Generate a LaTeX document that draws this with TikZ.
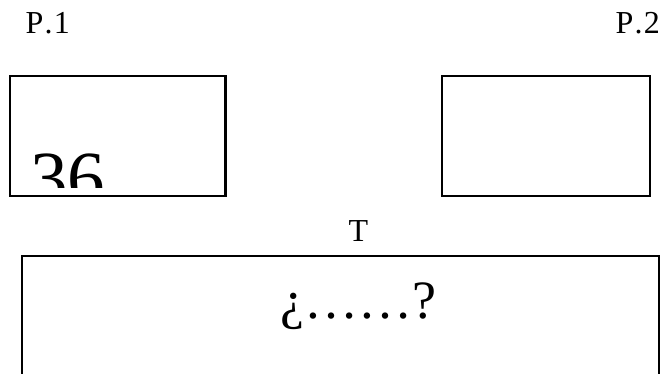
\documentclass[tikz,border=0pt]{standalone}
\usepackage{fontspec}
\setmainfont{Liberation Serif}
\tikzset{
  kasten/.style={draw,line width=2.6pt,inner sep=0pt},
  marke/.style={inner sep=0pt,font=\fontsize{32}{36}\selectfont}
}
\begin{document}
\begin{tikzpicture}[x=1pt,y=-1pt]
\useasboundingbox[clip] (0,0) rectangle (662,373);
% Beschriftungen oben
\node[marke,anchor=base west] (p1) at (25.5,33) {P\kern1.2pt.\kern1.2pt1};
\node[marke,anchor=base east] (p2) at (660,33) {P\kern1.2pt.\kern1.2pt2};
% obere Kaesten
\node[kasten,minimum width=215.5pt,minimum height=120pt] (k1) at (117.75,136) {};
\node[kasten,minimum width=208pt,minimum height=120pt] (k2) at (546,136) {};
% abgeschnittene Zahl im ersten Kasten
\begin{scope}
\clip (11.5,77.5) rectangle (224,187);
\node[inner sep=0pt,anchor=base west,font=\fontsize{75}{80}\selectfont] (zahl) at (30,203) {36};
\end{scope}
% unterer Kasten
\node[marke,anchor=base] (t) at (358.5,241) {T};
\node[kasten,minimum width=637pt,minimum height=160pt] (k3) at (340.5,336) {};
\node[inner sep=0pt,anchor=base,font=\fontsize{54}{60}\selectfont] (frage) at (358,318) {¿……?};
\end{tikzpicture}
\end{document}
